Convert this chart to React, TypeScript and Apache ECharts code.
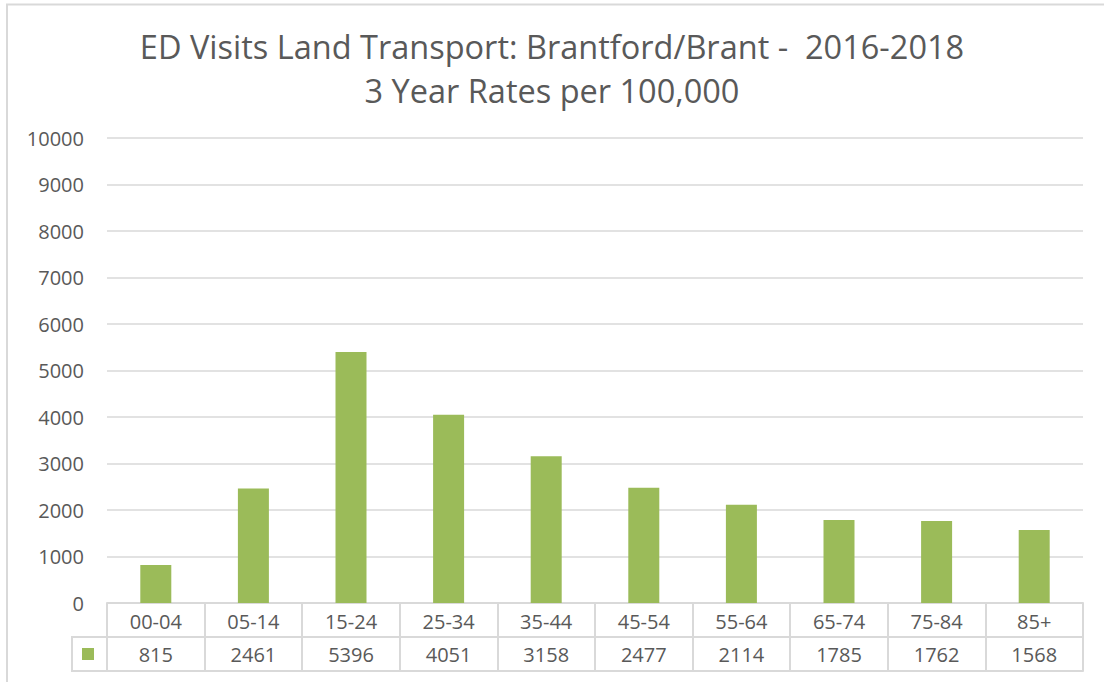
import React, { useEffect, useRef } from "react";
import * as echarts from "echarts";

const categories = ["00-04", "05-14", "15-24", "25-34", "35-44", "45-54", "55-64", "65-74", "75-84", "85+"];
const rates = [815, 2461, 5396, 4051, 3158, 2477, 2114, 1785, 1762, 1568];
const titleLines = ["ED Visits Land Transport: Brantford/Brant -  2016-2018", "3 Year Rates per 100,000"];

const FONT = "'Open Sans', 'Liberation Sans', sans-serif";
const TXT = "#595959";
const LINE = "#d9d9d9";
const BAR = "#9BBB59";

export default function App() {
  const ref = useRef<HTMLDivElement>(null);
  useEffect(() => {
    if (!ref.current) return;
    const chart = echarts.init(ref.current, null, { renderer: "svg" });
    const gridLeft = 107, gridRight = 21, gridTop = 138, gridBottom = 79;
    const axisY = 682 - gridBottom;
    const rowH = 34;
    chart.setOption({
      animation: false,
      backgroundColor: "#fff",
      textStyle: { fontFamily: FONT },
      title: {
        text: titleLines.join("\n"),
        left: "center",
        top: 19,
        textStyle: { fontFamily: FONT, fontSize: 32.5, fontWeight: "normal", color: TXT, lineHeight: 44 },
      },
      grid: { left: gridLeft, right: gridRight, top: gridTop, bottom: gridBottom, containLabel: false },
      xAxis: [
        {
          type: "category",
          data: categories,
          position: "bottom",
          axisLine: { show: true, lineStyle: { color: LINE, width: 2 } },
          axisTick: { show: true, length: rowH * 2, lineStyle: { color: LINE, width: 2 } },
          axisLabel: { color: TXT, fontSize: 20, fontFamily: FONT, margin: 8, interval: 0 },
        },
        {
          type: "category",
          data: rates.map(String),
          position: "bottom",
          offset: rowH,
          axisLine: { show: true, lineStyle: { color: LINE, width: 2 } },
          axisTick: { show: false },
          axisLabel: { color: TXT, fontSize: 20, fontFamily: FONT, margin: 7, interval: 0 },
        },
        {
          type: "category",
          data: categories,
          position: "bottom",
          offset: rowH * 2,
          axisLine: { show: true, lineStyle: { color: LINE, width: 2 } },
          axisTick: { show: false },
          axisLabel: { show: false },
        },
      ],
      yAxis: {
        type: "value",
        min: 0,
        max: 10000,
        interval: 1000,
        axisLine: { show: false },
        axisTick: { show: false },
        axisLabel: { color: TXT, fontSize: 20, fontFamily: FONT, margin: 23, formatter: (v: number) => String(v) },
        splitLine: { lineStyle: { color: LINE, width: 1.5 } },
      },
      series: [
        {
          type: "bar",
          data: rates,
          xAxisIndex: 0,
          itemStyle: { color: BAR },
          barWidth: 31,
        },
      ],
      graphic: [
        {
          type: "rect",
          shape: { x: 7, y: 4.5, width: 1200, height: 800 },
          style: { fill: "none", stroke: LINE, lineWidth: 2 },
          silent: true,
        },
        {
          type: "polyline",
          shape: { points: [[gridLeft, axisY + rowH], [72, axisY + rowH], [72, axisY + rowH * 2], [gridLeft, axisY + rowH * 2]] },
          style: { fill: "none", stroke: LINE, lineWidth: 2 },
          silent: true,
        },
        {
          type: "rect",
          shape: { x: 82, y: 648, width: 12, height: 12 },
          style: { fill: BAR },
          silent: true,
        },
      ],
    });
    return () => chart.dispose();
  }, []);
  return <div ref={ref} style={{ position: "fixed", left: 0, top: 0, width: 1104, height: 682 }} />;
}
